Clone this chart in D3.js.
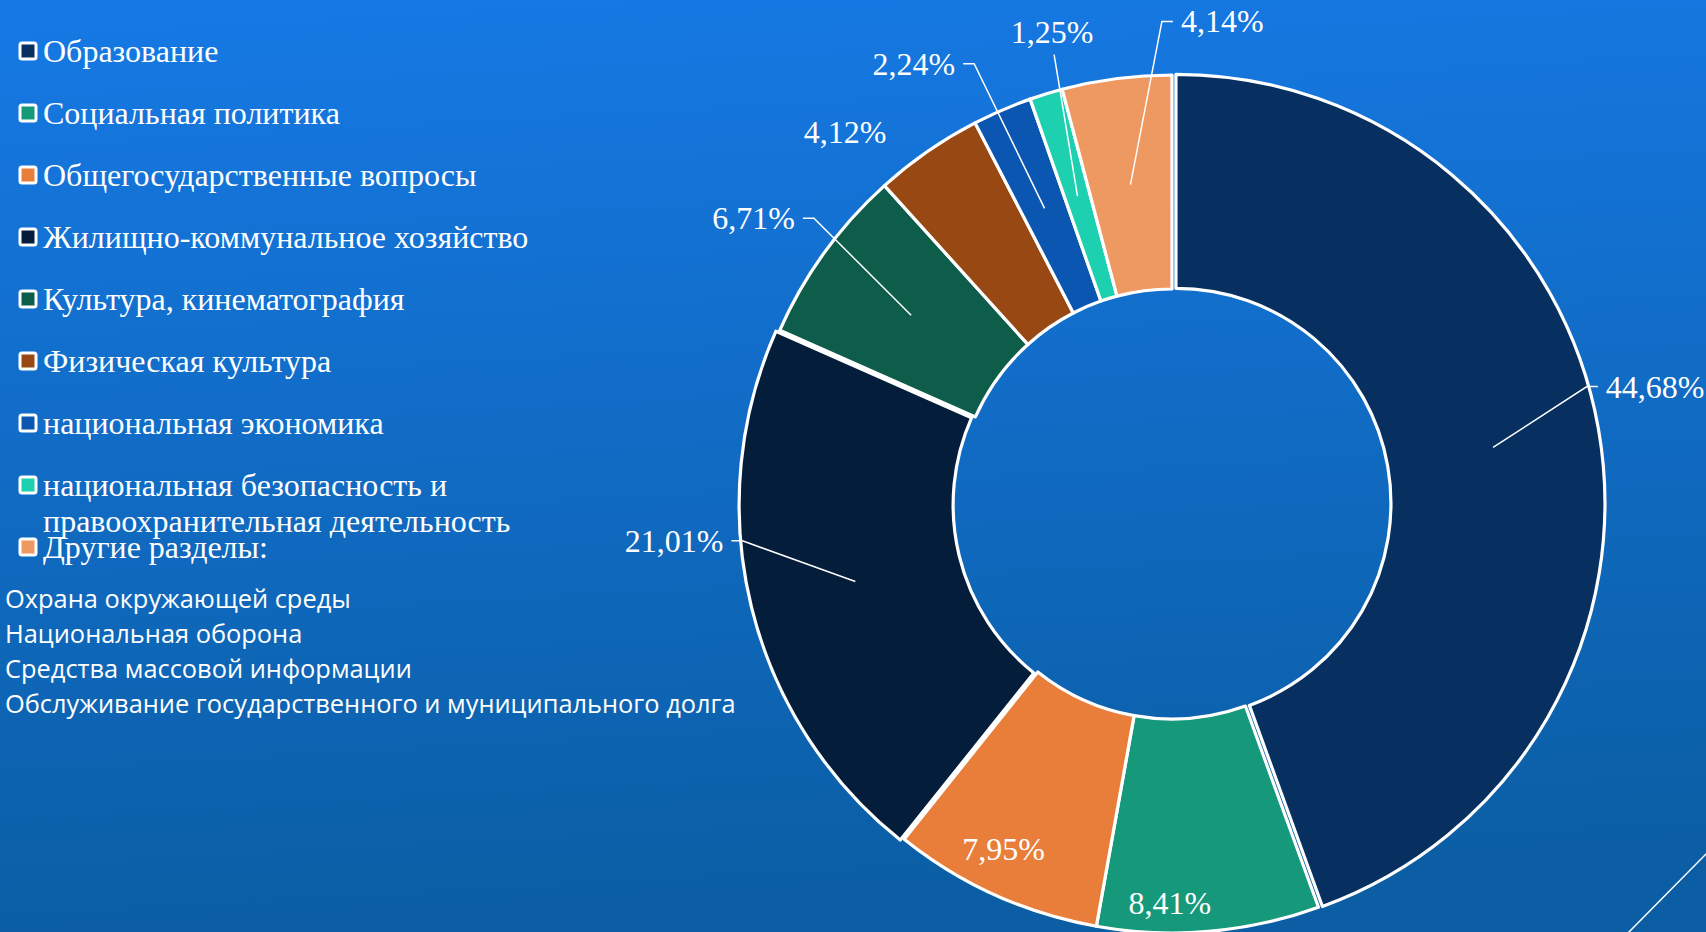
<!DOCTYPE html>
<html>
<head>
<meta charset="utf-8">
<script src="https://cdn.jsdelivr.net/npm/d3@7"></script>
<style>
    html, body { margin: 0; padding: 0; overflow: hidden; background: #1272d6; }
</style>
</head>
<body>
<script>
// #region DATA
var sections = [
    "Образование",
    "Социальная политика",
    "Общегосударственные вопросы",
    "Жилищно-коммунальное хозяйство",
    "Культура, кинематография",
    "Физическая культура",
    "национальная экономика",
    "национальная безопасность и\nправоохранительная деятельность",
    "Другие разделы:"
];
var shares = [44.68, 8.41, 7.95, 21.01, 6.71, 4.12, 2.24, 1.25, 4.14];
var shareLabels = ["44,68%", "8,41%", "7,95%", "21,01%", "6,71%", "4,12%", "2,24%", "1,25%", "4,14%"];
var sliceColors = ["#072f60", "#16987b", "#e87e3a", "#041d3b", "#0e5c4a", "#984813", "#0b56b0", "#1dd0b0", "#ee9862"];
var otherSections = [
    "Охрана окружающей среды",
    "Национальная оборона",
    "Средства массовой информации",
    "Обслуживание государственного и муниципального долга"
];
// #endregion

// #region LAYOUT
var W = 1706, H = 932;
var cx = 1172, cy = 504, outerR = 429, innerR = 215;
var explode = [4, 0, 0, 4, 0, 0, 0, 0, 0]; // px each slice is pulled out

// where each label sits: kind, side, polar position (degrees clockwise from 12, radius factor)
var labelPlace = [
    {kind: "out", side: 1, ang: 74.2, k: 1.005},
    {kind: "in", ang: 180.3, k: 0.93},
    {kind: "in", ang: 206, k: 0.895},
    {kind: "out", side: -1, ang: 265.1, k: 1.005},
    {kind: "out", side: -1, ang: 308.6, k: 1.068},
    {kind: "free", ang: 318.7, k: 1.155},
    {kind: "out", side: -1, ang: 335.8, k: 1.125},
    {kind: "top", ang: 345.3, k: 1.083},
    {kind: "out", side: 1, ang: 358.8, k: 1.125}
];
// #endregion

var svg = d3.select("body")
    .append("svg")
    .attr("width", W)
    .attr("height", H);

var grad = svg.append("defs")
    .append("linearGradient")
    .attr("id", "bg")
    .attr("x1", 0).attr("y1", 0)
    .attr("x2", 0.1).attr("y2", 1);
grad.append("stop").attr("offset", "0%").attr("stop-color", "#1679e5");
grad.append("stop").attr("offset", "100%").attr("stop-color", "#0b5ea4");

svg.append("rect")
    .attr("width", W)
    .attr("height", H)
    .attr("fill", "url(#bg)");

// decorative corner line
svg.append("line")
    .attr("x1", 1627).attr("y1", 934)
    .attr("x2", 1708).attr("y2", 852)
    .attr("stroke", "white")
    .attr("stroke-width", 1.5);

// #region DONUT
var pie = d3.pie().sort(null).value(d => d);
var arcs = pie(shares);

var arc = d3.arc()
    .innerRadius(innerR)
    .outerRadius(outerR);

var toRad = Math.PI / 180;
var shift = function(d, i) {
    var a = (d.startAngle + d.endAngle) / 2;
    return [explode[i] * Math.sin(a), -explode[i] * Math.cos(a)];
};

var donut = svg.append("g")
    .attr("id", "donut")
    .attr("transform", "translate(" + cx + "," + cy + ")");

donut.selectAll("path")
    .data(arcs)
    .enter()
    .append("path")
        .attr("d", arc)
        .attr("transform", (d, i) => "translate(" + shift(d, i).join(",") + ")")
        .attr("fill", (d, i) => sliceColors[i])
        .attr("stroke", "white")
        .attr("stroke-width", 3.2)
        .attr("stroke-linejoin", "round");

// labels + leader lines
var polar = function(angDeg, r) {
    return [r * Math.sin(angDeg * toRad), -r * Math.cos(angDeg * toRad)];
};

var labelFont = "'Liberation Serif', 'Times New Roman', serif";

arcs.forEach(function(d, i) {
    var p = labelPlace[i];
    var pt = polar(p.ang, p.k * outerR);
    var c = arc.centroid(d);
    var s = shift(d, i);
    c = [c[0] + s[0], c[1] + s[1]];
    var txt = donut.append("text")
        .text(shareLabels[i])
        .attr("fill", "white")
        .attr("font-size", "32px")
        .style("font-family", labelFont);

    if (p.kind == "out") {
        var dir = p.side;
        var tick = [pt[0] + dir * 11, pt[1]];
        donut.append("polyline")
            .attr("points", [c, pt, tick].map(q => q.join(",")).join(" "))
            .attr("fill", "none")
            .attr("stroke", "white")
            .attr("stroke-width", 1.5);
        txt.attr("x", tick[0] + dir * 8)
            .attr("y", tick[1])
            .attr("dominant-baseline", "central")
            .attr("text-anchor", dir < 0 ? "end" : "start");
    } else if (p.kind == "top") {
        donut.append("line")
            .attr("x1", c[0]).attr("y1", c[1])
            .attr("x2", pt[0]).attr("y2", pt[1])
            .attr("stroke", "white")
            .attr("stroke-width", 1.5);
        txt.attr("x", pt[0] - 2)
            .attr("y", pt[1] - 12)
            .attr("text-anchor", "middle");
    } else {
        txt.attr("x", pt[0])
            .attr("y", pt[1])
            .attr("dominant-baseline", "central")
            .attr("text-anchor", "middle");
    }
});
// #endregion

// #region LEGEND
var rowY = d3.scalePoint()
    .domain(sections)
    .range([51, 51 + 62 * (sections.length - 1)]);

var legend = svg.append("g")
    .attr("id", "legend");

var rows = legend.selectAll("g")
    .data(sections)
    .enter()
    .append("g")
    .attr("transform", d => "translate(0," + rowY(d) + ")");

rows.append("rect")
    .attr("x", 20)
    .attr("y", -8)
    .attr("width", 16)
    .attr("height", 16)
    .attr("rx", 2)
    .attr("fill", (d, i) => sliceColors[i])
    .attr("stroke", "white")
    .attr("stroke-width", 3);

rows.append("text")
    .attr("fill", "white")
    .attr("font-size", "32px")
    .style("font-family", labelFont)
    .selectAll("tspan")
    .data(d => d.split("\n"))
    .enter()
    .append("tspan")
        .attr("x", 43)
        .attr("y", (d, j) => j * 36)
        .attr("dominant-baseline", "central")
        .text(d => d);

// list of "other" sections
var otherY = d3.scalePoint()
    .domain(otherSections)
    .range([598, 598 + 35 * (otherSections.length - 1)]);

legend.selectAll(".other")
    .data(otherSections)
    .enter()
    .append("text")
        .attr("class", "other")
        .attr("x", 5)
        .attr("y", d => otherY(d))
        .attr("dominant-baseline", "central")
        .attr("fill", "white")
        .attr("font-size", "25.4px")
        .style("font-family", "'Open Sans', sans-serif")
        .text(d => d);
// #endregion
</script>
</body>
</html>
